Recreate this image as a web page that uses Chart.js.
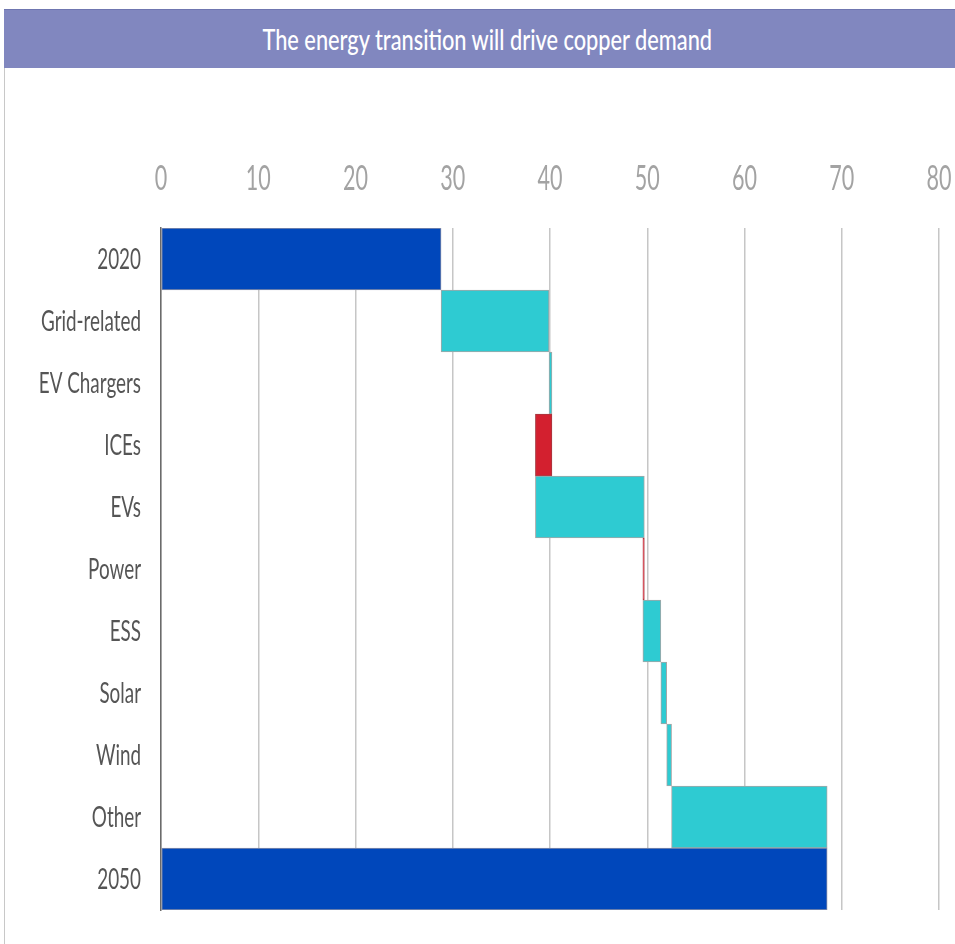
<!DOCTYPE html>
<html>
<head>
<meta charset="utf-8">
<script src="https://cdn.jsdelivr.net/npm/chart.js@4.4.1/dist/chart.umd.min.js"></script>
<style>
  html, body { margin: 0; padding: 0; background: #fff; }
  #wrap { position: relative; width: 955px; height: 944px; overflow: hidden; }
  #frame { position: absolute; left: 4px; top: 9px; width: 951px; height: 935px; border-left: 1px solid #c8c8c8; box-sizing: border-box; }
  #title { position: absolute; left: 4px; top: 9px; width: 951px; height: 59px; background: #8187bf; border-top: 1px solid #6f76b0;
           box-sizing: border-box; text-align: center; padding-left: 16px; }
  #title span { display: inline-block; color: #fff; font-family: Lato, "Open Sans", sans-serif; font-size: 28px; font-weight: 500;
                line-height: 58px; white-space: nowrap; transform-origin: 50% 50%; }
  canvas { position: absolute; left: 0; top: 0; }
</style>
</head>
<body>
<div id="wrap">
  <div id="frame"></div>
  <canvas id="c" width="955" height="944"></canvas>
  <div id="title"><span id="tt">The energy transition will drive copper demand</span></div>
</div>
<script>
// ---- data ----
const categories = ["2020", "Grid-related", "EV Chargers", "ICEs", "EVs", "Power", "ESS", "Solar", "Wind", "Other", "2050"];
const startTotal = 28.8;           // 2020 demand
const changes = [11.1, 0.3, -1.7, 11.2, -0.15, 1.85, 0.6, 0.5, 16.0]; // Grid-related ... Other
const endTotal = 68.5;             // 2050 demand
const xTicks = [0, 10, 20, 30, 40, 50, 60, 70, 80];

// ---- squeeze title horizontally like the original ----
const tt = document.getElementById("tt");
tt.style.transform = "scaleX(" + (450 / tt.offsetWidth) + ")";

// ---- build floating bars from the data ----
const ranges = [[0, startTotal]];
const colors = ["#0047bb"];
const borders = ["#8a8fa8"];
let running = startTotal;
changes.forEach(d => {
  const next = running + d;
  ranges.push([running, next]);
  colors.push(d >= 0 ? "#2ecbd2" : "#d3202f");
  borders.push(d >= 0 ? "#a6a6a6" : "#a43a40");
  running = next;
});
ranges.push([0, endTotal]);
colors.push("#0047bb");
borders.push("#8a8fa8");

const FONT = "Lato, 'Open Sans', sans-serif";

// draws the axis labels through the scales, condensed horizontally
const squeezedLabels = {
  id: "squeezedLabels",
  afterDraw(chart) {
    const ctx = chart.ctx, xs = chart.scales.x, ys = chart.scales.y;
    ctx.save();
    // category labels
    ctx.font = "29px " + FONT;
    const sy = 100 / ctx.measureText("Grid-related").width;
    ctx.fillStyle = "#555555";
    ctx.textAlign = "right";
    ctx.textBaseline = "middle";
    ys.ticks.forEach((t, i) => {
      ctx.save();
      ctx.translate(ys.right - 20, ys.getPixelForTick(i) + 1);
      ctx.scale(sy, 1);
      ctx.fillText(ys.getLabelForValue(t.value), 0, 0);
      ctx.restore();
    });
    // value axis labels
    ctx.font = "34px " + FONT;
    const sx = 25 / ctx.measureText("10").width;
    ctx.fillStyle = "#a3a3a3";
    ctx.textAlign = "center";
    ctx.textBaseline = "alphabetic";
    xs.ticks.forEach((t, i) => {
      ctx.save();
      ctx.translate(xs.getPixelForTick(i), xs.bottom - 38);
      ctx.scale(sx, 1);
      ctx.fillText(String(t.value), 0, 0);
      ctx.restore();
    });
    ctx.restore();
  }
};

new Chart(document.getElementById("c"), {
  type: "bar",
  data: {
    labels: categories,
    datasets: [{
      data: ranges,
      backgroundColor: colors,
      borderColor: borders,
      borderWidth: 1,
      borderSkipped: false,
      barPercentage: 1.0,
      categoryPercentage: 1.0
    }]
  },
  options: {
    indexAxis: "y",
    responsive: false,
    animation: false,
    layout: { padding: { top: 70, right: 16, bottom: 34, left: 0 } },
    plugins: { legend: { display: false }, tooltip: { enabled: false }, title: { display: false } },
    scales: {
      x: {
        position: "top",
        min: 0, max: 80,
        afterBuildTicks: s => { s.ticks = xTicks.map(v => ({ value: v })); },
        afterFit: s => { s.height = 158; s.paddingLeft = 0; s.paddingRight = 0; },
        ticks: { display: false },
        grid: { color: "#c6c6c6", lineWidth: 1.5, drawTicks: false },
        border: { display: false }
      },
      y: {
        afterFit: s => { s.width = 161; s.paddingTop = 0; s.paddingBottom = 0; },
        ticks: { display: false },
        grid: { display: false, drawTicks: false },
        border: { display: true, color: "#6b6b6b", width: 1.5 }
      }
    }
  },
  plugins: [squeezedLabels]
});
</script>
</body>
</html>
